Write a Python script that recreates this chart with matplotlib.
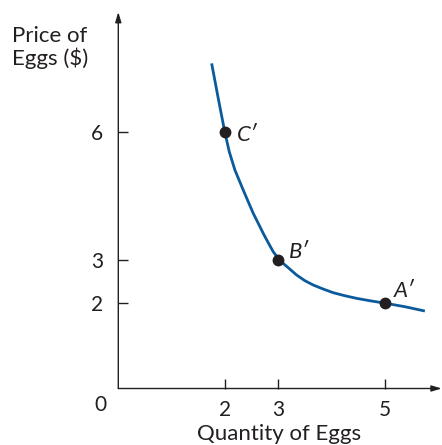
import matplotlib
matplotlib.use("Agg")
import matplotlib.pyplot as plt

# Data
curve_q = [1.752, 1.876, 2.0, 2.083, 2.189, 2.345, 2.439, 2.533, 2.627, 2.720, 2.814, 2.908,
           3.03, 3.189, 3.347, 3.503, 3.659, 3.846, 4.034, 4.253, 4.472, 4.722, 5.0, 5.379, 5.754]
curve_p = [7.616, 6.796, 6.0, 5.546, 5.117, 4.649, 4.375, 4.103, 3.869, 3.635, 3.415, 3.204,
           3.0, 2.83, 2.658, 2.525, 2.424, 2.330, 2.244, 2.173, 2.112, 2.056, 2.0, 1.916, 1.815]
point_q = [2, 3, 5]
point_p = [6, 3, 2]
point_labels = ["C\u2032", "B\u2032", "A\u2032"]
x_ticks = [2, 3, 5]
y_ticks = [2, 3, 6]

plt.rcParams['font.family'] = ['Lato', 'DejaVu Sans']
fig = plt.figure(figsize=(4.42, 4.45), dpi=100)
W, H = 442, 445
x0, y0 = 118.3, 388.5
x1, y1 = 441.7, 12.0
ax = fig.add_axes([x0 / W, (H - y0) / H, (x1 - x0) / W, (y0 - y1) / H])
ax.set_xlim(0, 6.07)
ax.set_ylim(0, 8.82)
for s in ax.spines.values():
    s.set_visible(False)

axc = '#231f20'
ax.annotate('', xy=(1.0, 0), xytext=(0, 0), xycoords='axes fraction',
            arrowprops=dict(arrowstyle='-|>,head_length=0.6,head_width=0.18', color=axc, lw=1.0,
                            shrinkA=0, shrinkB=0), annotation_clip=False)
ax.annotate('', xy=(0, 1.0), xytext=(0, 0), xycoords='axes fraction',
            arrowprops=dict(arrowstyle='-|>,head_length=0.6,head_width=0.18', color=axc, lw=1.0,
                            shrinkA=0, shrinkB=0), annotation_clip=False)

ax.set_xticks(x_ticks)
ax.set_yticks(y_ticks)
ax.tick_params(axis='both', direction='in', length=7, width=1.0, color=axc,
               labelsize=15, labelcolor=axc)
ax.tick_params(axis='x', pad=8)
ax.tick_params(axis='y', pad=11)

ax.plot(curve_q, curve_p, color='#0a5a9c', lw=2.0, solid_capstyle='butt', solid_joinstyle='round', zorder=3)
ax.plot(point_q, point_p, 'o', color='#231f20', ms=7.5, zorder=4, clip_on=False)

offsets = [(8.6, -6.5), (8.0, 1.4), (6.5, 4.3)]
for q, p, lab, off in zip(point_q, point_p, point_labels, offsets):
    ax.annotate(lab, (q, p), xytext=off, textcoords='offset points', fontsize=16,
                style='italic', color=axc, ha='left', va='baseline')

fig.text(100 / W, 1 - 405 / H, '0', fontsize=15, color=axc, ha='center', va='center')
fig.text(279.5 / W, 1 - 440 / H, 'Quantity of Eggs', fontsize=16, color=axc, ha='center', va='baseline')
fig.text(12 / W, 1 - 42 / H, 'Price of', fontsize=16, color=axc, ha='left', va='baseline')
fig.text(12 / W, 1 - 65 / H, 'Eggs ($)', fontsize=16, color=axc, ha='left', va='baseline')

fig.savefig('out.png', dpi=100)
